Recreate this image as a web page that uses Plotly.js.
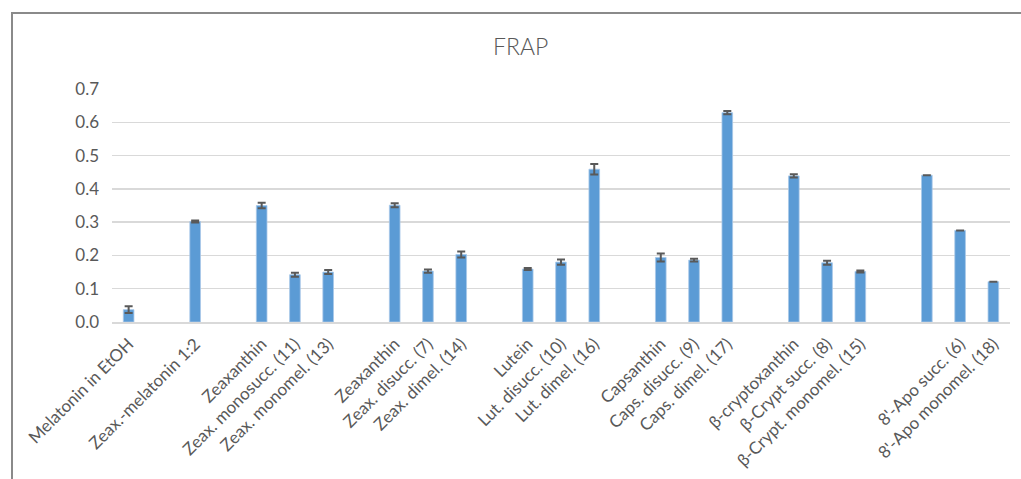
<!DOCTYPE html>
<html>
<head>
<meta charset="utf-8">
<script src="https://cdn.plot.ly/plotly-3.0.1.min.js"></script>
<style>
  html, body { margin: 0; padding: 0; background: #fff; overflow: hidden; }
  #chart { width: 1021px; height: 479px; }
  #frame {
    position: absolute; left: 11px; top: 12px;
    width: 2000px; height: 2000px;
    border: 2px solid #8a8a8a; pointer-events: none;
  }
</style>
</head>
<body>
<div id="chart"></div>
<div id="frame"></div>
<script>
// Category slots; empty strings are spacer slots between compound groups
const categories = [
  "Melatonin in EtOH", "", "Zeax.-melatonin 1:2", "",
  "Zeaxanthin", "Zeax. monosucc. (11)", "Zeax. monomel. (13)", "",
  "Zeaxanthin", "Zeax. disucc. (7)", "Zeax. dimel. (14)", "",
  "Lutein", "Lut. disucc. (10)", "Lut. dimel. (16)", "",
  "Capsanthin", "Caps. disucc. (9)", "Caps. dimel. (17)", "",
  "β-cryptoxanthin", "β-Crypt succ. (8)", "β-Crypt. monomel. (15)", "",
  "", "8'-Apo succ. (6)", "8'-Apo monomel. (18)"
];

// FRAP values (null = spacer slot)
const frap = [
  0.037, null, 0.302, null,
  0.350, 0.142, 0.150, null,
  0.351, 0.153, 0.203, null,
  0.159, 0.180, 0.459, null,
  0.194, 0.186, 0.629, null,
  0.439, 0.178, 0.152, null,
  0.441, 0.275, 0.121
];

// Standard deviations (null = no error bar)
const frapErr = [
  0.010, null, 0.003, null,
  0.008, 0.006, 0.006, null,
  0.006, 0.005, 0.009, null,
  0.003, 0.008, 0.016, null,
  0.012, 0.004, 0.005, null,
  0.005, 0.006, 0.003, null,
  null, null, null
];

const slots = categories.map((_, i) => i);

const textColor = "#595959";
const font = "Lato, 'Open Sans', sans-serif";

const trace = {
  type: "bar",
  x: slots,
  y: frap,
  marker: { color: "#5b9bd5", line: { color: "#a8c8e8", width: 0.8 } },
  error_y: {
    type: "data",
    array: frapErr,
    visible: true,
    color: "#595959",
    thickness: 2,
    width: 4
  },
  hoverinfo: "y"
};

const layout = {
  width: 1021,
  height: 479,
  margin: { l: 112, r: 11, t: 89, b: 157 },
  paper_bgcolor: "rgba(0,0,0,0)",
  plot_bgcolor: "#fff",
  bargap: 0.68,
  showlegend: false,
  title: {
    text: "FRAP",
    font: { family: font, size: 23, color: "#595959", weight: 300 },
    x: 0.51, xref: "container", xanchor: "center",
    y: 0.902, yref: "container", yanchor: "middle"
  },
  xaxis: {
    type: "linear",
    range: [-0.5, categories.length - 0.5],
    tickmode: "array",
    tickvals: slots,
    ticktext: categories,
    tickangle: -45,
    tickfont: { family: font, size: 17, color: textColor },
    ticklabelstandoff: 4,
    showgrid: false,
    zeroline: false,
    showline: true,
    linecolor: "#d9d9d9",
    linewidth: 1.5,
    ticks: "",
    fixedrange: true
  },
  yaxis: {
    range: [0, 0.7],
    dtick: 0.1,
    tick0: 0,
    tickformat: ".1f",
    tickfont: { family: font, size: 17, color: textColor },
    showgrid: true,
    gridcolor: "#d9d9d9",
    gridwidth: 1.5,
    zeroline: false,
    showline: false,
    ticks: "",
    ticklabelstandoff: 12,
    fixedrange: true
  }
};

Plotly.newPlot("chart", [trace], layout, { staticPlot: true, displayModeBar: false });
</script>
</body>
</html>
